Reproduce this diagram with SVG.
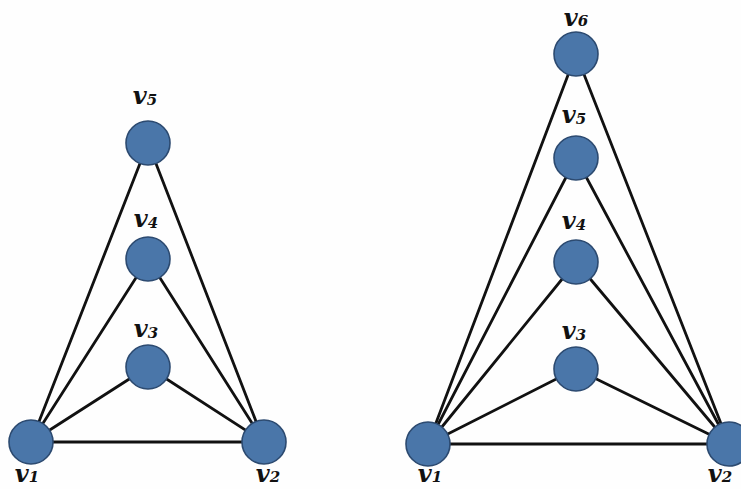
<svg xmlns="http://www.w3.org/2000/svg" width="741" height="489" viewBox="0 0 741 489">
<style>
.e{stroke:#111;stroke-width:2.8;fill:none;stroke-linecap:round}
.n{fill:#4a76a9;stroke:#2c4a70;stroke-width:1.6}
.l{font-family:"DejaVu Serif","Liberation Serif",serif;font-weight:bold;font-style:italic;font-size:24px;fill:#111;text-anchor:middle}
.s{font-size:15px}
</style>
<rect width="741" height="489" fill="#fefefe"/>
<g id="edges">
<line class="e" x1="31" y1="442" x2="264" y2="442"/>
<line class="e" x1="31" y1="442" x2="148" y2="367"/>
<line class="e" x1="31" y1="442" x2="148" y2="259"/>
<line class="e" x1="31" y1="442" x2="148" y2="143"/>
<line class="e" x1="264" y1="442" x2="148" y2="367"/>
<line class="e" x1="264" y1="442" x2="148" y2="259"/>
<line class="e" x1="264" y1="442" x2="148" y2="143"/>
<line class="e" x1="428" y1="444" x2="729" y2="444"/>
<line class="e" x1="428" y1="444" x2="576" y2="369"/>
<line class="e" x1="428" y1="444" x2="576" y2="262"/>
<line class="e" x1="428" y1="444" x2="576" y2="158"/>
<line class="e" x1="428" y1="444" x2="576" y2="54"/>
<line class="e" x1="729" y1="444" x2="576" y2="369"/>
<line class="e" x1="729" y1="444" x2="576" y2="262"/>
<line class="e" x1="729" y1="444" x2="576" y2="158"/>
<line class="e" x1="729" y1="444" x2="576" y2="54"/>
</g>
<g id="L_v1"><circle class="n" cx="31" cy="442" r="22"/><text class="l" x="27" y="482">v<tspan class="s">1</tspan></text></g>
<g id="L_v2"><circle class="n" cx="264" cy="442" r="22"/><text class="l" x="268" y="482">v<tspan class="s">2</tspan></text></g>
<g id="L_v3"><circle class="n" cx="148" cy="367" r="22"/><text class="l" x="146" y="337">v<tspan class="s" dy="1">3</tspan></text></g>
<g id="L_v4"><circle class="n" cx="148" cy="259" r="22"/><text class="l" x="146" y="227">v<tspan class="s" dy="1">4</tspan></text></g>
<g id="L_v5"><circle class="n" cx="148" cy="143" r="22"/><text class="l" x="145" y="104">v<tspan class="s" dy="1">5</tspan></text></g>
<g id="R_v1"><circle class="n" cx="428" cy="444" r="22"/><text class="l" x="430" y="482">v<tspan class="s">1</tspan></text></g>
<g id="R_v2"><circle class="n" cx="729" cy="444" r="22"/><text class="l" x="720" y="482">v<tspan class="s">2</tspan></text></g>
<g id="R_v3"><circle class="n" cx="576" cy="369" r="22"/><text class="l" x="574" y="339">v<tspan class="s" dy="1">3</tspan></text></g>
<g id="R_v4"><circle class="n" cx="576" cy="262" r="22"/><text class="l" x="574" y="229">v<tspan class="s" dy="1">4</tspan></text></g>
<g id="R_v5"><circle class="n" cx="576" cy="158" r="22"/><text class="l" x="574" y="123">v<tspan class="s" dy="1">5</tspan></text></g>
<g id="R_v6"><circle class="n" cx="576" cy="54" r="22"/><text class="l" x="576" y="26">v<tspan class="s">6</tspan></text></g>
</svg>
